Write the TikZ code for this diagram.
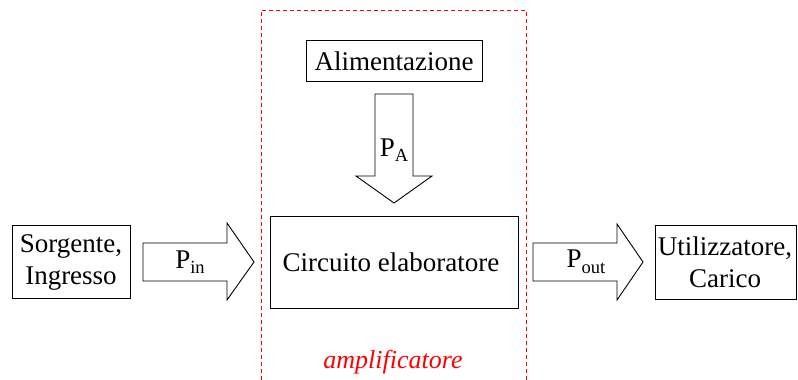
\documentclass[tikz,border=0pt]{standalone}
\usepackage{fontspec}
\setmainfont{Liberation Serif}
\begin{document}
\begin{tikzpicture}[x=1pt,y=-1pt,
  txt/.style={font=\fontsize{27}{32}\selectfont, align=center, inner sep=0pt},
  block/.style={draw=black, line width=1pt, fill=white},
  fatarrow/.style={draw=black, line width=0.9pt, fill=white, line join=miter}]
\useasboundingbox (0,0) rectangle (798,380);
\newcommand{\lowsub}[1]{\raisebox{-0.45ex}{\fontsize{18.5}{21}\selectfont #1}}

% dashed enclosure of the amplifier (open at the bottom)
\draw[red, dash pattern=on 4pt off 3pt, line width=0.9pt]
  (261,380) -- (261,10) -- (526,10) -- (526,380);
\node[txt, text=red, font=\fontsize{26}{31}\selectfont\itshape] (amp) at (393,362) {amplificatore};

% blocks
\draw[block] (306,40) rectangle (482,81);
\node[txt] (alim) at (394,61) {Alimentazione};
\draw[block] (270,216) rectangle (518,308);
\node[txt] (circ) at (391,262) {Circuito elaboratore};
\draw[block] (12,225) rectangle (130,298);
\node[txt] (src) at (71,262) {Sorgente,\\Ingresso};
\draw[block] (655,225) rectangle (796,299);
\node[txt] (load) at (725,262) {Utilizzatore,\\Carico};

% block arrows
\draw[fatarrow] (375,94) -- (413,94) -- (413,176) -- (432,176) -- (394,203)
  -- (356,176) -- (375,176) -- cycle;
\node[txt] (pa) at (394,150) {P\lowsub{A}};

\draw[fatarrow] (143,243) -- (227,243) -- (227,223) -- (254,262) -- (227,300)
  -- (227,281) -- (143,281) -- cycle;
\node[txt] (pin) at (190,262) {P\lowsub{in}};

\draw[fatarrow] (533,243) -- (617,243) -- (617,224) -- (643,262) -- (617,300)
  -- (617,281) -- (533,281) -- cycle;
\node[txt] (pout) at (586,262) {P\lowsub{out}};
\end{tikzpicture}
\end{document}
